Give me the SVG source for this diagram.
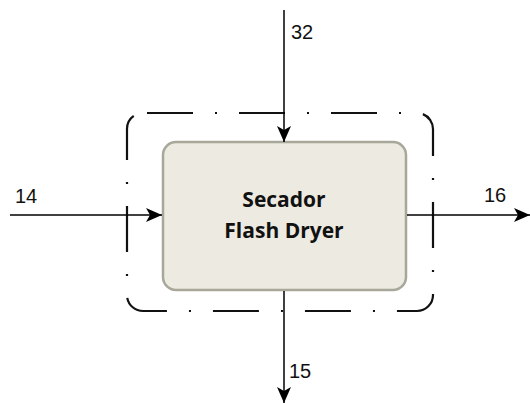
<svg xmlns="http://www.w3.org/2000/svg" width="530" height="403" viewBox="0 0 530 403">
<style>
.flow{stroke:#000;stroke-width:1.5;fill:none}
.lbl{font-family:"Liberation Sans",Arial,sans-serif;font-size:20px;fill:#111}
.title{font-family:"Open Sans","DejaVu Sans",sans-serif;font-size:21px;font-weight:bold;fill:#111;text-anchor:middle}
</style>
<defs>
<marker id="ah" viewBox="0 0 16 14" refX="16" refY="7" markerWidth="16" markerHeight="14" markerUnits="userSpaceOnUse" orient="auto">
<path d="M0,0 L16,7 L0,14 L4,7 Z" fill="#000"/>
</marker>
</defs>
<rect width="530" height="403" fill="#fff"/>
<g id="boundary">
<rect x="127" y="113" width="306" height="198" rx="16" ry="16" fill="none" stroke="#111" stroke-width="2.2" stroke-dasharray="46 22 2 22" stroke-dashoffset="-4"/>
</g>
<g id="dryer">
<rect x="163" y="142" width="243" height="148" rx="13" ry="13" fill="#ECEAE1" stroke="#A8A799" stroke-width="2.5"/>
<text class="title" x="284" y="207">Secador</text>
<text class="title" x="284" y="238">Flash Dryer</text>
</g>
<g id="connectors">
<path class="flow" d="M284,10 L284,142" marker-end="url(#ah)"/>
<path class="flow" d="M10,215 L162,215" marker-end="url(#ah)"/>
<path class="flow" d="M407,215 L530,215" marker-end="url(#ah)"/>
<path class="flow" d="M284,291 L284,403" marker-end="url(#ah)"/>
<text class="lbl" x="291" y="39">32</text>
<text class="lbl" x="15" y="203">14</text>
<text class="lbl" x="484" y="202">16</text>
<text class="lbl" x="289" y="378">15</text>
</g>
</svg>
